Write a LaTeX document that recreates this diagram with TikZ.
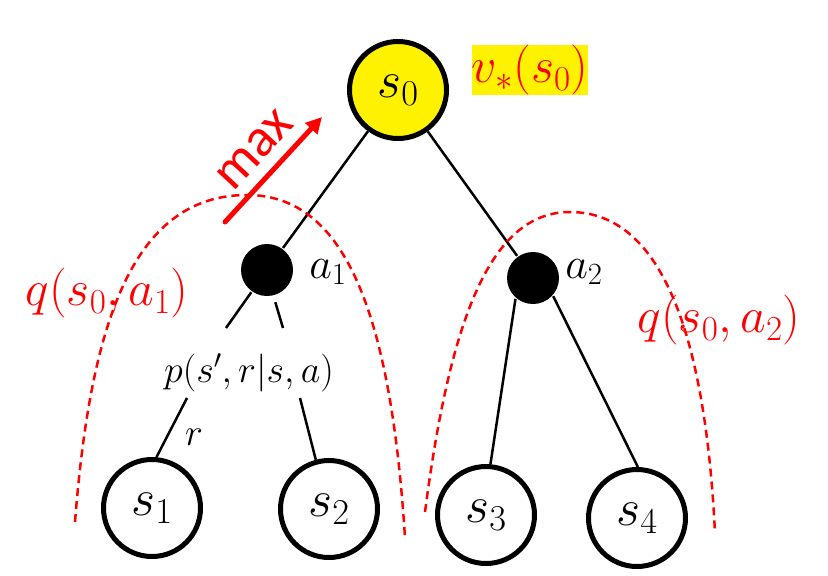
\RequirePackage{fix-cm}
\documentclass[tikz,border=0pt]{standalone}
\usepackage{fontspec}
\newfontfamily\maxfont{Carlito}
\usetikzlibrary{arrows.meta}
\begin{document}
\begin{tikzpicture}[x=1pt, y=-1pt, line width=2.5pt,
  every node/.style={inner sep=1pt},
  state/.style={circle, draw, line width=5pt, minimum size=97pt, inner sep=0pt, font=\fontsize{52}{56}\selectfont},
  act/.style={circle, fill=black, minimum size=52pt, inner sep=0pt},
  lab/.style={font=\fontsize{44}{48}\selectfont},
  small/.style={font=\fontsize{38}{42}\selectfont},
  qlab/.style={text=red, font=\fontsize{50}{54}\selectfont},
  qline/.style={red, dash pattern=on 8pt off 5pt, line width=2.5pt}]
  \useasboundingbox (0,0) rectangle (828,576);
  \node[state, fill=yellow] (s0) at (398,90) {$s_0$};
  \node[act] (a1) at (267,270) {};
  \node[act] (a2) at (533,278) {};
  \node[state] (s1) at (152,508) {$s_1$};
  \node[state] (s2) at (329,509) {$s_2$};
  \node[state] (s3) at (486,515) {$s_3$};
  \node[state] (s4) at (637,518) {$s_4$};
  \node[lab] (la1) at (328,272) {$a_1$};
  \node[lab] (la2) at (584,272) {$a_2$};
  \node[small] (p) at (249,373) {$p(s',r|s,a)$};
  \node[small] (r) at (194,437) {$r$};
  \node[qlab, fill=yellow, inner sep=0pt] (v0) at (530,70) {$v_*(s_0)$};
  \node[qlab] (q1) at (107,293) {$q(s_0,a_1)$};
  \node[qlab] (q2) at (719,320) {$q(s_0,a_2)$};
  \node[text=red, rotate=47, font=\maxfont\fontsize{54}{58}\selectfont] (mx) at (255,150) {max};
  \coordinate (t1) at (226,328);
  \coordinate (t2) at (283,328);
  \coordinate (b1) at (187,398);
  \coordinate (b2) at (300,398);
  \coordinate (m1) at (225,222);
  \coordinate (m2) at (322,117);
  \draw (s0) -- (a1);
  \draw (s0) -- (a2);
  \draw (a1) -- (t1);
  \draw[shorten <=6pt] (a1.-76) -- (t2);
  \draw (b1) -- (s1.85);
  \draw (b2) -- (s2.105);
  \draw (a2.230) -- (s3.85);
  \draw (a2.-42) -- (s4.89);
  \draw[red, line width=5pt, line cap=round, -{Triangle[length=16pt, width=16pt]}] (m1) -- (m2);
  \draw[qline] (75,522) .. controls (90,330) and (130,195) .. (247,195) .. controls (340,195) and (390,300) .. (405,538);
  \draw[qline] (425,512) .. controls (450,320) and (490,212) .. (570,212) .. controls (660,212) and (705,330) .. (715,533);
\end{tikzpicture}
\end{document}
